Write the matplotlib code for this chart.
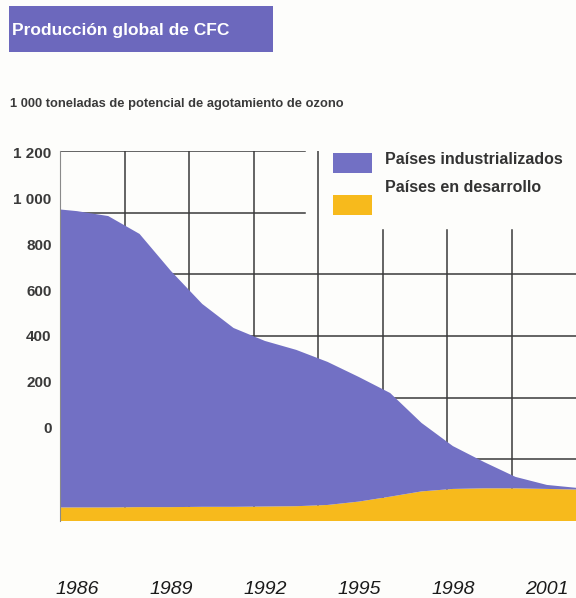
import matplotlib
matplotlib.use("Agg")
import matplotlib.pyplot as plt
import matplotlib.transforms as mtransforms
from matplotlib.patches import Rectangle

# values (thousand ODP tonnes)
years = [1985, 1986, 1987, 1988, 1989, 1990, 1991, 1992, 1993,
         1994, 1995, 1996, 1997, 1998, 1999, 2000, 2001, 2002]
total = [1015, 1005, 989, 931, 811, 704, 626, 584, 555,
         516, 467, 415, 318, 243, 191, 143, 117, 107]
developing = [44, 44, 44, 45, 45, 46, 46, 47, 48,
              52, 63, 79, 96, 104, 106, 106, 104, 102]
industrial = [t - d for t, d in zip(total, developing)]

year_ticks = [1986, 1989, 1992, 1995, 1998, 2001]
value_ticks = [0, 200, 400, 600, 800, 1000, 1200]
value_labels = ["0", "200", "400", "600", "800", "1 000", "1 200"]

title = "Producción global de CFC"
subtitle = "1 000 toneladas de potencial de agotamiento de ozono"
series_names = ["Países industrializados", "Países en desarrollo"]

PURPLE = "#7270c4"
ORANGE = "#f7ba1c"
GRID = "#3a3a3a"
sans = ["Liberation Sans", "DejaVu Sans"]

W, H = 576, 598
fig = plt.figure(figsize=(W / 100, H / 100), dpi=100, facecolor="#fdfdfb")

def px(x, y):
    return x / W, 1 - y / H

ax = fig.add_axes([60 / W, (H - 521) / H, 516 / W, 370 / H])
ax.set_facecolor("none")
ax.set_xlim(1985.46, 2001.93)
ax.set_ylim(0, 1200)

# grid, partly cut by the legend block
blend = mtransforms.blended_transform_factory(ax.transAxes, ax.transData)
for v in range(200, 1201, 200):
    right = 0.475 if v >= 1000 else 1.0
    ax.plot([0, right], [v, v], transform=blend, color=GRID, lw=1.1, zorder=1)
for k in range(1, 8):
    top = 1200 if k <= 4 else 944
    ax.plot([k / 8, k / 8], [0, top], transform=blend, color=GRID, lw=1.1, zorder=1)

ax.stackplot(years, developing, industrial, colors=[ORANGE, PURPLE],
             linewidth=0, zorder=2)

for s in ["top", "right", "bottom"]:
    ax.spines[s].set_visible(False)
ax.spines["left"].set_color("#8a8a8a")
ax.spines["left"].set_linewidth(0.8)
ax.spines["left"].set_zorder(3)

ax.set_yticks([])
ax.set_xticks(year_ticks)
ax.set_xticklabels([str(y) for y in year_ticks], fontstyle="italic",
                   family=sans, fontsize=14, color="#1a1a1a")
ax.tick_params(axis="x", length=0, pad=43)

# value labels sit on their own (offset) scale, as in the original
lab = ax.twinx()
lab.set_ylim(-405, 1205)
lab.yaxis.tick_left()
lab.set_yticks(value_ticks)
lab.set_yticklabels(value_labels, family=sans, fontweight="bold",
                    fontsize=11, color="#3a3a3a")
lab.tick_params(axis="y", length=0, pad=6)
for s in lab.spines.values():
    s.set_visible(False)

# title block
x0, y0 = px(9, 52)
fig.patches.append(Rectangle((x0, y0), 264 / W, 46 / H, transform=fig.transFigure,
                             facecolor="#6c68bd", edgecolor="none"))
fig.text(*px(12, 30), title, family=sans, fontweight="bold", fontsize=12.5,
         color="white", va="center", ha="left")
fig.text(*px(10, 104), subtitle, family=sans, fontweight="bold", fontsize=9.3,
         color="#3a3a3a", va="center", ha="left")

# legend
for (yt, name), col, yp in zip([(160, series_names[0]), (187, series_names[1])],
                               [PURPLE, ORANGE], [173, 215]):
    lx, ly = px(333, yp)
    fig.patches.append(Rectangle((lx, ly), 39 / W, 20 / H, transform=fig.transFigure,
                                 facecolor=col, edgecolor="none"))
    fig.text(*px(385, yt), name, family=sans, fontweight="bold", fontsize=11.5,
             color="#333333", va="center", ha="left")

fig.savefig("out.png", dpi=100, facecolor=fig.get_facecolor())
